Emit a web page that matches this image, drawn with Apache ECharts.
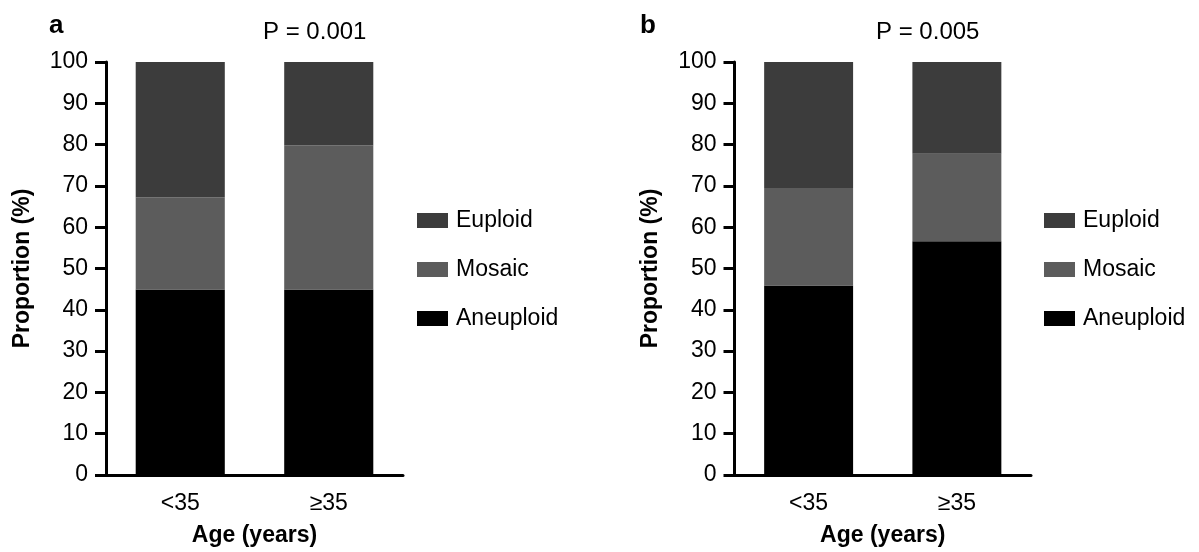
<!DOCTYPE html>
<html><head><meta charset="utf-8">
<script src="https://cdn.jsdelivr.net/npm/echarts@6/dist/echarts.min.js"></script>
<style>html,body{margin:0;padding:0;background:#fff}#c{width:1199px;height:552px}</style>
</head><body><div id="c"></div>
<script>
const categories = ['<35', '\u226535'];
const seriesNames = ['Euploid', 'Mosaic', 'Aneuploid'];
const yTicks = [0, 10, 20, 30, 40, 50, 60, 70, 80, 90, 100];
// Panel a
const aAneuploid = [44.9, 44.9];
const aMosaic = [22.3, 34.9];
const aEuploid = [32.8, 20.2];
// Panel b
const bAneuploid = [45.9, 56.6];
const bMosaic = [23.6, 21.2];
const bEuploid = [30.5, 22.2];
const panelLetters = ['a', 'b'];
const pValues = ['P = 0.001', 'P = 0.005'];

const FONT = 'Liberation Sans, Arial, sans-serif';
const colors = { Euploid: '#3c3c3c', Mosaic: '#5c5c5c', Aneuploid: '#000000' };

function xAxis(idx) {
  return {
    type: 'category', gridIndex: idx, data: categories,
    axisLine: { lineStyle: { color: '#000', width: 3 } },
    axisTick: { alignWithLabel: true, length: 11, lineStyle: { width: 3, color: '#000' } },
    axisLabel: { color: '#000', fontSize: 23, fontFamily: FONT, margin: 17 },
    name: 'Age (years)', nameLocation: 'middle', nameGap: 49,
    nameTextStyle: { color: '#000', fontSize: 23, fontWeight: 'bold', fontFamily: FONT }
  };
}
function yAxis(idx) {
  return {
    type: 'value', gridIndex: idx, min: yTicks[0], max: yTicks[yTicks.length - 1], interval: yTicks[1] - yTicks[0],
    axisLine: { show: true, lineStyle: { color: '#000', width: 3 } },
    axisTick: { show: true, length: 11, lineStyle: { width: 3, color: '#000' } },
    axisLabel: { color: '#000', fontSize: 23, fontFamily: FONT, margin: 18 },
    splitLine: { show: false },
    name: 'Proportion (%)', nameLocation: 'middle', nameGap: 72,
    nameTextStyle: { color: '#000', fontSize: 23, fontWeight: 'bold', fontFamily: FONT }
  };
}
function bar(name, data, idx) {
  return {
    name, type: 'bar', stack: 'p' + idx, xAxisIndex: idx, yAxisIndex: idx, data,
    barWidth: '60%', itemStyle: { color: colors[name] }, silent: true
  };
}
function legend(left) {
  return {
    orient: 'vertical', left, top: 204, data: seriesNames,
    icon: 'rect', itemWidth: 31, itemHeight: 15, itemGap: 26,
    textStyle: { color: '#000', fontSize: 23, fontFamily: FONT, padding: [0, 0, 0, 3] },
    selectedMode: false
  };
}

const chart = echarts.init(document.getElementById('c'));
chart.setOption({
  animation: false,
  grid: [
    { left: 106, right: 796, top: 62, bottom: 76 },
    { left: 734.5, right: 168, top: 62, bottom: 76 }
  ],
  xAxis: [xAxis(0), xAxis(1)],
  yAxis: [yAxis(0), yAxis(1)],
  legend: [legend(412), legend(1039)],
  series: [
    bar('Aneuploid', aAneuploid, 0), bar('Mosaic', aMosaic, 0), bar('Euploid', aEuploid, 0),
    bar('Aneuploid', bAneuploid, 1), bar('Mosaic', bMosaic, 1), bar('Euploid', bEuploid, 1)
  ],
  graphic: [
    { type: 'text', left: 49, top: 13, style: { text: panelLetters[0], font: 'bold 26px ' + FONT, fill: '#000' } },
    { type: 'text', left: 263, top: 20, style: { text: pValues[0], font: '24px ' + FONT, fill: '#000' } },
    { type: 'text', left: 640, top: 13, style: { text: panelLetters[1], font: 'bold 26px ' + FONT, fill: '#000' } },
    { type: 'text', left: 876, top: 20, style: { text: pValues[1], font: '24px ' + FONT, fill: '#000' } }
  ]
});
</script></body></html>
